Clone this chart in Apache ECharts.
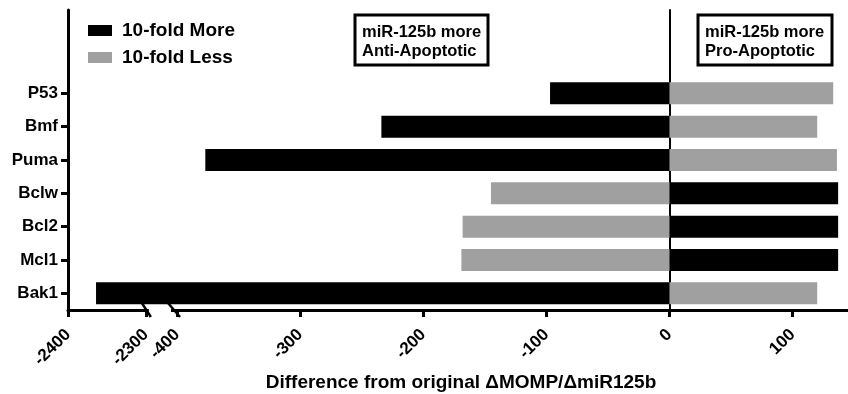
<!DOCTYPE html>
<html><head><meta charset="utf-8">
<script src="https://cdn.jsdelivr.net/npm/echarts@6.0.0/dist/echarts.min.js"></script>
<style>html,body{margin:0;padding:0;background:#fff}#c{width:848px;height:394px}</style>
</head><body><div id="c"></div>
<script>
// ---- data ----
const categories = ['Bak1', 'Mcl1', 'Bcl2', 'Bclw', 'Puma', 'Bmf', 'P53'];
const moreValues = [-2364, 137, 137, 137, -377, -234, -97];   // 10-fold More (black)
const lessValues = [120, -169, -168, -145, 136, 120, 133];    // 10-fold Less (grey)
const leftTicks = [-2400, -2300];
const rightTicks = [-400, -300, -200, -100, 0, 100];
const seriesNames = ['10-fold More', '10-fold Less'];
const axisTitle = 'Difference from original \u0394MOMP/\u0394miR125b';
const boxLeftText = ['miR-125b more', 'Anti-Apoptotic'];
const boxRightText = ['miR-125b more', 'Pro-Apoptotic'];

// ---- chart ----
const FONT = "'Liberation Sans', Arial, Helvetica, sans-serif";
const GREY = '#a0a0a0';
const cats = categories.concat([' ', '  ']);
const nReal = categories.length;

const chart = echarts.init(document.getElementById('c'), null, {renderer: 'canvas'});

const xLabel = {
  rotate: 45, margin: 22, color: '#000', fontFamily: FONT, fontWeight: 'bold', fontSize: 17,
  formatter: function (v) { return String(v); }
};

function barSeries(gridIdx) {
  return [
    {type: 'bar', name: seriesNames[0], xAxisIndex: gridIdx, yAxisIndex: gridIdx,
     data: moreValues, barWidth: 22, barGap: '-100%', clip: true, silent: true,
     itemStyle: {color: '#000'}},
    {type: 'bar', name: seriesNames[1], xAxisIndex: gridIdx, yAxisIndex: gridIdx,
     data: lessValues, barWidth: 22, barGap: '-100%', clip: true, silent: true,
     itemStyle: {color: GREY}}
  ];
}

const option = {
  backgroundColor: '#fff',
  animation: false,
  legend: {
    orient: 'vertical', left: 83, top: 16, icon: 'rect', itemWidth: 24, itemHeight: 11,
    itemGap: 8, data: seriesNames, selectedMode: false,
    textStyle: {fontFamily: FONT, fontWeight: 'bold', fontSize: 19, color: '#000', padding: [0, 0, 0, 5]}
  },
  grid: [
    {left: 68, right: 848 - 177, top: 10, bottom: 84},
    {left: 177, right: 0, top: 10, bottom: 84}
  ],
  xAxis: [
    {type: 'value', gridIndex: 0, min: -2400, max: -2260, interval: 100,
     axisLine: {show: true, onZero: false, lineStyle: {color: '#000', width: 3}},
     axisTick: {show: true, length: 7, lineStyle: {color: '#000', width: 3}, customValues: leftTicks},
     axisLabel: Object.assign({customValues: leftTicks}, xLabel),
     splitLine: {show: false}},
    {type: 'value', gridIndex: 1, min: -400, max: 145, interval: 100,
     axisLine: {show: true, onZero: false, lineStyle: {color: '#000', width: 3}},
     axisTick: {show: true, length: 7, lineStyle: {color: '#000', width: 3}, customValues: rightTicks},
     axisLabel: Object.assign({customValues: rightTicks}, xLabel),
     splitLine: {show: false}}
  ],
  yAxis: [
    {type: 'category', gridIndex: 0, data: cats,
     axisLine: {show: true, onZero: false, lineStyle: {color: '#000', width: 3}},
     axisTick: {show: true, length: 7, alignWithLabel: true, lineStyle: {color: '#000', width: 3},
                interval: function (idx) { return idx < nReal; }},
     axisLabel: {interval: 0, margin: 10, color: '#000', fontFamily: FONT, fontWeight: 'bold', fontSize: 17},
     splitLine: {show: false}},
    {type: 'category', gridIndex: 1, data: cats,
     axisLine: {show: true, onZero: true, lineStyle: {color: '#000', width: 2}},
     axisTick: {show: false}, axisLabel: {show: false}, splitLine: {show: false}}
  ],
  series: barSeries(0).concat(barSeries(1))
};

chart.setOption(option);

const xBreakL = chart.convertToPixel({xAxisIndex: 0}, -2300);
const xBreakR = chart.convertToPixel({xAxisIndex: 1}, -400);
const yBase = 394 - 84;

function box(x, y, w, h, lines) {
  return {
    type: 'group', x: x, y: y, z: 100,
    children: [
      {type: 'rect', shape: {x: 0, y: 0, width: w, height: h},
       style: {fill: '#fff', stroke: '#000', lineWidth: 3}},
      {type: 'text', x: 7, y: h / 2 + 2,
       style: {text: lines.join('\n'), fill: '#000', font: 'bold 16.5px ' + FONT,
               lineHeight: 19, textVerticalAlign: 'middle', textAlign: 'left'}}
    ]
  };
}

chart.setOption({
  graphic: [
    {type: 'rect', z: 100, shape: {x: xBreakL + 3, y: yBase - 3, width: (xBreakR - 6) - (xBreakL + 3), height: 7},
     style: {fill: '#fff'}},
    {type: 'line', z: 101, shape: {x1: xBreakL - 4, y1: yBase - 7, x2: xBreakL + 5, y2: yBase + 7},
     style: {stroke: '#000', lineWidth: 2.5}},
    {type: 'line', z: 101, shape: {x1: xBreakR - 9, y1: yBase - 7, x2: xBreakR + 3, y2: yBase + 7},
     style: {stroke: '#000', lineWidth: 2.5}},
    {type: 'text', z: 100, x: 461, y: 383,
     style: {text: axisTitle, fill: '#000', font: 'bold 19px ' + FONT, textAlign: 'center', textVerticalAlign: 'middle'}},
    box(355, 15, 133, 50, boxLeftText),
    box(698, 15, 134, 50, boxRightText)
  ]
});
</script>
</body></html>
